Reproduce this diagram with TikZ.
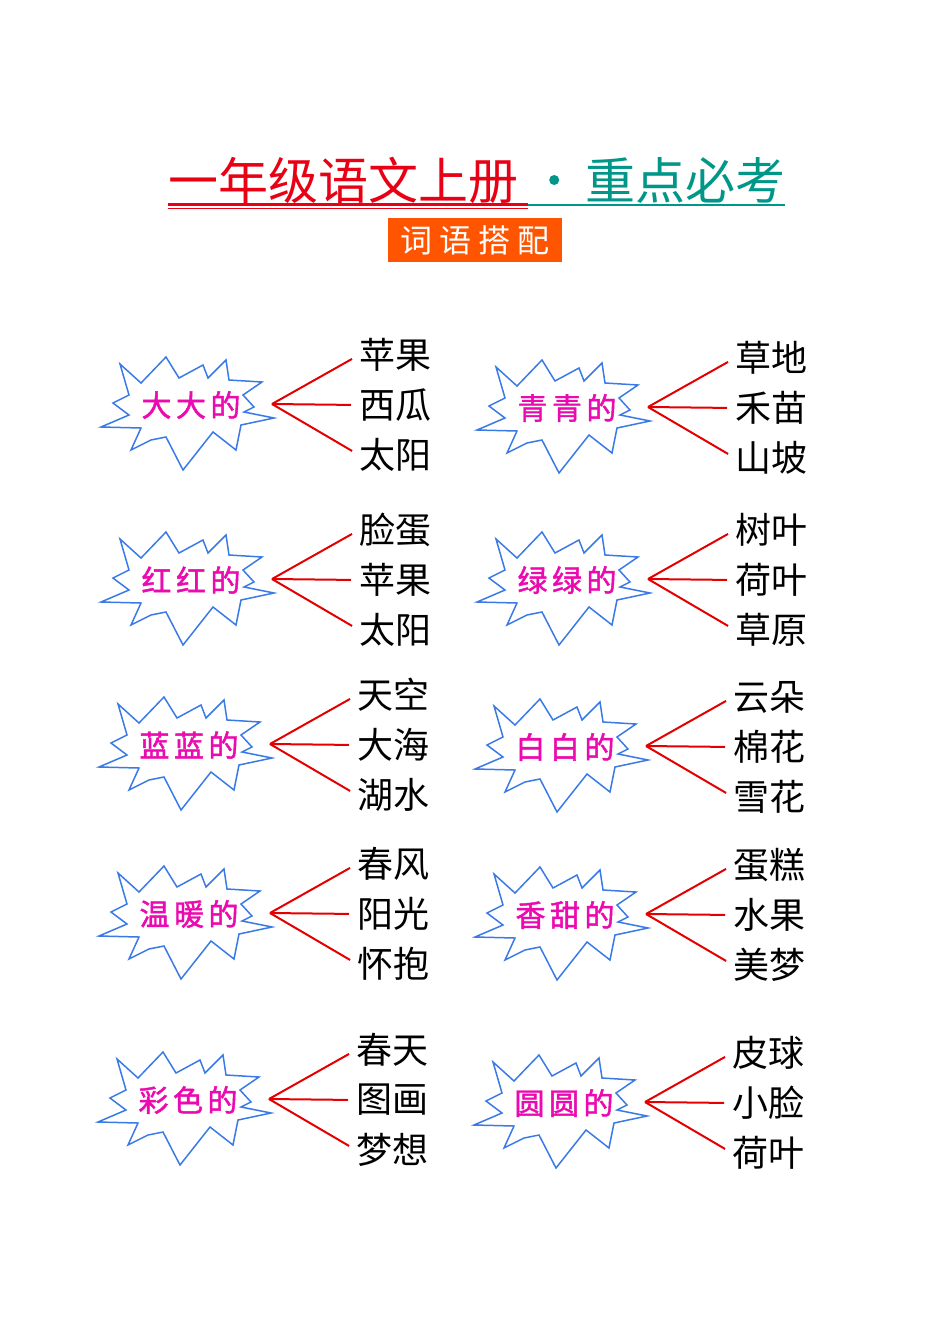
\documentclass[tikz,border=0pt]{standalone}
\usepackage{fontspec}
\setmainfont{Noto Sans CJK SC}
\newfontfamily\burstfont[LetterSpace=15,FakeBold=1.5]{Noto Sans CJK SC}
\newfontfamily\tagfont[LetterSpace=22]{Noto Sans CJK SC}
\usetikzlibrary{positioning}
\usetikzlibrary{calc}
\definecolor{titlered}{RGB}{232,0,20}
\definecolor{titleteal}{RGB}{0,150,136}
\definecolor{tagorange}{RGB}{255,85,0}
\definecolor{burstblue}{RGB}{58,122,230}
\definecolor{burstpink}{RGB}{235,10,175}
\definecolor{linkred}{RGB}{228,0,0}
\tikzset{
    burst/.style={draw=burstblue, line width=0.75pt, line join=miter},
    burstlabel/.style={text=burstpink, font=\burstfont\fontsize{15}{15}\selectfont, inner sep=0pt},
    word/.style={font=\fontsize{18}{18}\selectfont, inner sep=0pt, anchor=west},
    link/.style={draw=linkred, line width=1pt, shorten >=4pt},
}
% Syntax: \matchgroup{name}{x}{y}{adjective}{top word}{middle word}{bottom word}
\newcommand\matchgroup[7]{
    \begin{scope}[shift={(#2,#3)}]
    \draw[burst] (-71,-41) -- (-50,-22) -- (-25,-48) -- (-12,-27) -- (12,-40) -- (17,-27) -- (35,-45) -- (38,-25) -- (71,-23) -- (52,-10) -- (63,2) -- (53,7) -- (83,13) -- (50,20) -- (45,45) -- (22,27) -- (-8,65) -- (-25,32) -- (-40,35) -- (-60,45) -- (-50,23) -- (-90,22) -- (-62,10) -- (-78,-2) -- (-62,-10) -- cycle;
    \node[burstlabel] (#1) at (0,0) {#4};
    \coordinate (#1hub) at (81,-1);
    \node[word] (#1top) at (168,-50) {#5};
    \node[word] (#1mid) at (168,0) {#6};
    \node[word] (#1bot) at (168,50) {#7};
    \draw[link] (#1hub) -- (#1top.west);
    \draw[link] (#1hub) -- (#1mid.west);
    \draw[link] (#1hub) -- (#1bot.west);
    \end{scope}
}

\begin{document}
\begin{tikzpicture}[x=0.5pt,y=-0.5pt]
	\useasboundingbox (0,0) rectangle (950,1344);
	% title
	\node[anchor=west, inner sep=0pt, text=titlered, font=\fontsize{25}{25}\selectfont] (titleA) at (168,180) {一年级语文上册};
	\node[circle, fill=titleteal, inner sep=0pt, minimum size=5pt, right=15pt of titleA] (titledot) {};
	\node[anchor=west, inner sep=0pt, text=titleteal, font=\fontsize{25}{25}\selectfont, right=12.5pt of titledot] (titleB) {重点必考};
	\draw[titlered, line width=1.5pt] (168,204) -- (528,204);
	\draw[titlered, line width=0.5pt] (168,208.5) -- (528,208.5);
	\draw[titleteal, line width=0.75pt] (528,205) -- (785,205);
	\node[fill=tagorange, text=white, font=\tagfont\fontsize{16}{16}\selectfont, minimum width=87pt, minimum height=22pt, inner sep=0pt] (tag) at (475,240) {词语搭配};
	% left column
	\matchgroup{big}{191}{405}{大大的}{苹果}{西瓜}{太阳}
	\matchgroup{red}{191}{580}{红红的}{脸蛋}{苹果}{太阳}
	\matchgroup{blue}{189}{745}{蓝蓝的}{天空}{大海}{湖水}
	\matchgroup{warm}{189}{914}{温暖的}{春风}{阳光}{怀抱}
	\matchgroup{color}{188}{1100}{彩色的}{春天}{图画}{梦想}
	% right column
	\matchgroup{green}{567}{408}{青青的}{草地}{禾苗}{山坡}
	\matchgroup{lime}{567}{580}{绿绿的}{树叶}{荷叶}{草原}
	\matchgroup{white}{565}{747}{白白的}{云朵}{棉花}{雪花}
	\matchgroup{sweet}{565}{915}{香甜的}{蛋糕}{水果}{美梦}
	\matchgroup{round}{564}{1103}{圆圆的}{皮球}{小脸}{荷叶}
\end{tikzpicture}
\end{document}
